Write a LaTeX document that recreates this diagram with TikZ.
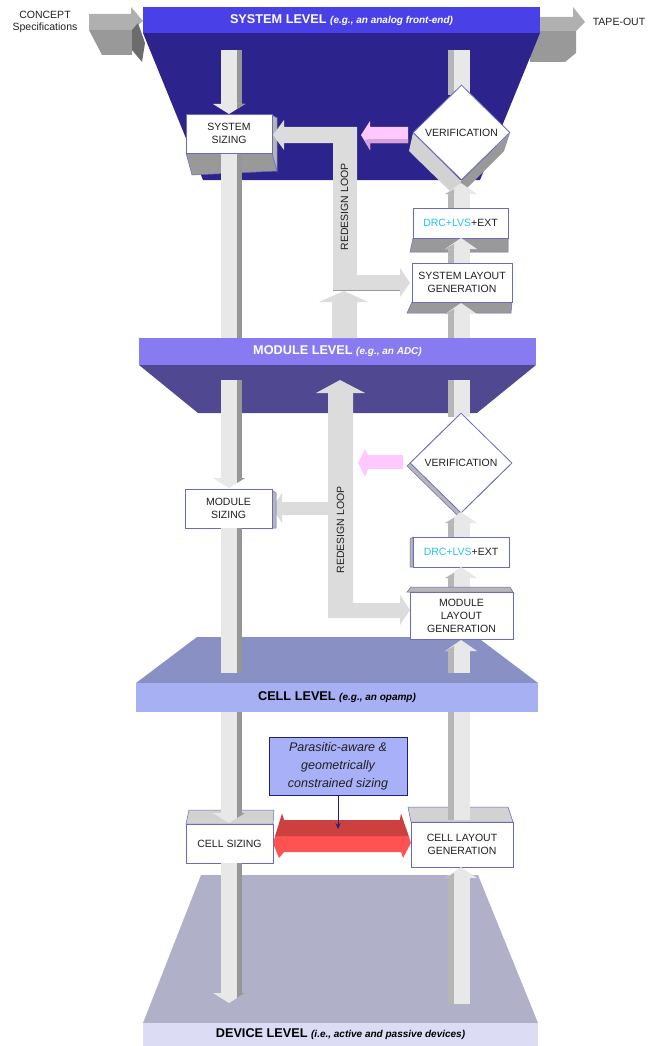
\documentclass[tikz,border=0pt]{standalone}
\usepackage{fontspec}
\setmainfont{Liberation Sans}
\usetikzlibrary{arrows.meta, positioning, shapes.geometric}

\definecolor{sysbar}{HTML}{4A40E8}
\definecolor{systrap}{HTML}{2C248C}
\definecolor{modbar}{HTML}{887AF0}
\definecolor{modtrap}{HTML}{504890}
\definecolor{celltrap}{HTML}{8890C4}
\definecolor{cellbar}{HTML}{A8B0F4}
\definecolor{devtrap}{HTML}{B0B0C8}
\definecolor{devbar}{HTML}{DCDCF4}
\definecolor{pillL}{HTML}{E8E8E8}
\definecolor{pillD}{HTML}{969696}
\definecolor{pillS}{HTML}{B6B6B6}
\definecolor{topface}{HTML}{D2D2D2}
\definecolor{loopgray}{HTML}{DCDCDC}
\definecolor{boxline}{HTML}{6A6AC0}
\definecolor{boxtext}{HTML}{202020}
\definecolor{arrtop}{HTML}{B0B0B0}
\definecolor{arrfront}{HTML}{999999}
\definecolor{arrside}{HTML}{6C6C6C}
\definecolor{pinkfill}{HTML}{FFC8FF}
\definecolor{pinkshade}{HTML}{D8A0D8}
\definecolor{redtop}{HTML}{CC4040}
\definecolor{redfront}{HTML}{FF5252}
\definecolor{parafill}{HTML}{A8B0F8}
\definecolor{paraline}{HTML}{20207A}
\definecolor{drccyan}{HTML}{22C4F0}

% pillar pieces (y from, y to)
\newcommand{\pillarL}[2]{%
  \fill[pillL] (221,#1) rectangle (237,#2);
  \fill[pillD] (237,#1) rectangle (242,#2);}
\newcommand{\pillarR}[2]{%
  \fill[pillS] (448,#1) rectangle (454,#2);
  \fill[pillL] (454,#1) rectangle (470,#2);}
% arrow heads (tip y)
\newcommand{\headDown}[1]{%
  \fill[pillL] (213,#1-10) -- (245,#1-10) -- (229,#1) -- cycle;
  \fill[pillD] (237,#1-10) -- (245,#1-10) -- (237,#1-5) -- cycle;}
\newcommand{\headUp}[1]{%
  \fill[pillL] (445,#1+11) -- (477,#1+11) -- (461,#1) -- cycle;
  \fill[pillS] (445,#1+11) -- (454,#1+11) -- (454,#1+6) -- cycle;}
\newcommand{\subtxt}[1]{{\fontsize{10}{12}\selectfont\itshape #1}}

\begin{document}
\begin{tikzpicture}[x=1pt, y=-1pt,
    box/.style={draw=boxline, fill=white, line width=0.8pt, align=center,
      inner sep=0pt, text=boxtext, font=\fontsize{10.5}{13}\selectfont},
    verif/.style={diamond, draw=boxline, fill=white, line width=0.8pt,
      inner sep=0pt, text=boxtext, font=\fontsize{10.5}{13}\selectfont},
    lvl/.style={inner sep=0pt, font=\fontsize{12.7}{15}\selectfont\bfseries},
    iotext/.style={align=center, inner sep=0pt, text=boxtext,
      font=\fontsize{10.5}{12.5}\selectfont},
    looptext/.style={rotate=90, inner sep=0pt, text=boxtext,
      font=\fontsize{10.5}{13}\selectfont},
    face/.style={draw=boxline, line width=0.5pt}]
    \useasboundingbox (0,0) rectangle (655,1046);

    % In and out arrows
    \fill[arrtop] (89,14) -- (131,14) -- (131,7) -- (143,21) -- (132,30) -- (89,30) -- cycle;
    \fill[arrfront] (89,30) -- (132,30) -- (132,55) -- (102,55) -- cycle;
    \fill[arrside] (132,30) -- (138,23) -- (145,43) -- (142,62) -- (132,50) -- cycle;
    \fill[arrfront] (530,31) -- (576,31) -- (576,53) -- (565,62) -- (530,62) -- cycle;
    \fill[arrtop] (539,17) -- (573,17) -- (573,7) -- (585,22) -- (576,31) -- (539,31) -- cycle;
    \node[iotext] (concept) at (45,22) {CONCEPT\\Specifications};
    \node[iotext] (tapeout) at (619,22) {TAPE-OUT};

    % Levels
    \fill[systrap] (143,33) -- (540,33) -- (480,180) -- (203,180) -- cycle;
    \node[lvl, fill=sysbar, text=white, minimum width=397pt, minimum height=26pt]
      (sysbar) at (341.5,20) {SYSTEM LEVEL \subtxt{(e.g., an analog front-end)}};
    \node[lvl, fill=modbar, text=white, minimum width=397pt, minimum height=27pt]
      (modbar) at (337.5,351.5) {MODULE LEVEL \subtxt{(e.g., an ADC)}};
    \fill[modtrap] (139,365) -- (536,365) -- (477,413) -- (198,413) -- cycle;
    \fill[celltrap] (197,637) -- (477,637) -- (538,683) -- (136,683) -- cycle;
    \node[lvl, fill=cellbar, text=black, minimum width=402pt, minimum height=29pt]
      (cellbar) at (337,697.5) {CELL LEVEL \subtxt{(e.g., an opamp)}};
    \fill[devtrap] (201,875) -- (478,875) -- (538,1023) -- (143,1023) -- cycle;
    \node[lvl, fill=devbar, text=black, minimum width=395pt, minimum height=23pt]
      (devbar) at (340.5,1034.5) {DEVICE LEVEL \subtxt{(i.e., active and passive devices)}};

    % System level
    \pillarL{50}{104} \headDown{114}
    \pillarR{50}{95}
    \filldraw[face, fill=arrfront] (186,153) -- (272,153) -- (277,171) -- (192,175) -- cycle;
    \filldraw[face, fill=pillS] (272,115) -- (277,118) -- (277,171) -- (272,153) -- cycle;
    \pillarL{153}{338}
    \node[box, minimum width=86pt, minimum height=39pt] (syssize) at (229,133.5) {SYSTEM\\SIZING};
    \fill[loopgray] (273,135) -- (284,120) -- (284,127) -- (357,127) -- (357,275) -- (400,275)
      -- (400,268) -- (410,283) -- (400,297) -- (400,290) -- (333,290) -- (333,143)
      -- (284,143) -- (284,150) -- cycle;
    \draw[arrfront, line width=1pt] (333,290) -- (400,290);
    \fill[loopgray] (332,338) -- (332,302) -- (319,302) -- (344,291) -- (368,302) -- (357,302) -- (357,338) -- cycle;
    \node[looptext] (sysloop) at (344.5,207) {REDESIGN LOOP};
    \fill[pinkfill] (408,127) -- (370,127) -- (370,121) -- (361,135) -- (370,150) -- (370,143) -- (408,143) -- cycle;
    \fill[pinkshade] (370,139) -- (408,139) -- (408,143) -- (370,143) -- (370,150) -- (364,140) -- cycle;
    \fill[topface] (413,133) -- (409,151) -- (457,198) -- (461,181) -- cycle;
    \fill[arrfront] (461,181) -- (457,198) -- (504,151) -- (510,133) -- cycle;
    \node[verif, minimum width=97pt, minimum height=95pt] (sysverif) at (461.5,132.5) {VERIFICATION};
    \pillarR{194}{208} \headUp{183}
    \filldraw[face, fill=arrfront] (413,238) -- (508,238) -- (508,252) -- (410,252) -- cycle;
    \node[box, minimum width=95pt, minimum height=30pt] (sysdrc) at (460.5,223)
      {{\color{drccyan}DRC+LVS}+EXT};
    \pillarR{249}{263} \headUp{238}
    \filldraw[face, fill=arrfront] (412,302) -- (512,302) -- (511,313) -- (407,313) -- cycle;
    \node[box, minimum width=100pt, minimum height=39pt] (syslayout) at (462,282.5)
      {SYSTEM LAYOUT\\GENERATION};
    \pillarR{314}{338} \headUp{303}

    % Module level
    \pillarL{380}{478} \headDown{488}
    \pillarR{380}{417}
    \fill[loopgray] (340,380) -- (365,393) -- (353,393) -- (353,603) -- (400,603) -- (400,595)
      -- (410,610) -- (400,625) -- (400,618) -- (328,618) -- (328,515) -- (282,515)
      -- (282,523) -- (272,508) -- (282,493) -- (282,502) -- (328,502) -- (328,393)
      -- (316,393) -- cycle;
    \node[looptext] (modloop) at (340.5,530) {REDESIGN LOOP};
    \fill[pinkfill] (403,455) -- (368,455) -- (365,449) -- (358,463) -- (365,477) -- (368,469) -- (403,469) -- cycle;
    \fill[face, fill=pillS] (458,466) ++(-51,0) -- ++(51,50) -- ++(51,-50) -- ++(-51,-50) -- cycle;
    \node[verif, minimum width=102pt, minimum height=100pt] (modverif) at (461,463) {VERIFICATION};
    \pillarR{523}{537} \headUp{512}
    \filldraw[face, fill=pillS] (410,539) -- (413,537) -- (413,567) -- (410,567) -- cycle;
    \node[box, minimum width=96pt, minimum height=30pt] (moddrc) at (461,552)
      {{\color{drccyan}DRC+LVS}+EXT};
    \pillarR{577}{589} \headUp{567}
    \filldraw[face, fill=pillS] (407,592) -- (411,587) -- (510,587) -- (513,592) -- cycle;
    \node[box, minimum width=103pt, minimum height=47pt] (modlayout) at (461.5,615.5)
      {MODULE\\LAYOUT\\GENERATION};
    \pillarR{651}{673} \headUp{640}
    \filldraw[face, fill=pillS] (272,490) -- (276,493) -- (276,528) -- (272,528) -- cycle;
    \node[box, minimum width=87pt, minimum height=39pt] (modsize) at (228.5,508.5) {MODULE\\SIZING};
    \pillarL{528}{673}

    % Cell level
    \filldraw[face, fill=topface] (186,824) -- (189,810) -- (274,810) -- (273,824) -- cycle;
    \filldraw[face, fill=topface] (411,822) -- (408,807) -- (508,807) -- (513,822) -- cycle;
    \pillarL{712}{813} \headDown{823}
    \pillarR{712}{820}
    \fill[redfront] (273,843) -- (282,814) -- (284,820) -- (400,820) -- (401,814) -- (411,843)
      -- (403,858) -- (401,852) -- (284,852) -- (279,858) -- cycle;
    \fill[redtop] (282,814) -- (284,820) -- (400,820) -- (401,814) -- (408.6,836) -- (275.2,836) -- cycle;
    \node[box, minimum width=87pt, minimum height=39pt] (cellsize) at (229.5,843.5) {CELL SIZING};
    \node[box, minimum width=102pt, minimum height=45pt] (celllayout) at (462,844.5)
      {CELL LAYOUT\\GENERATION};
    \node[draw=paraline, fill=parafill, line width=0.8pt, minimum width=138pt, minimum height=58pt,
      inner sep=0pt, align=center, text=boxtext, font=\fontsize{12.5}{18}\selectfont\itshape]
      (para) at (338,766) {Parasitic-aware \&\\geometrically\\constrained sizing};
    \coordinate (redmid) at (338,829);
    \draw[paraline, line width=0.8pt, -{Stealth[length=6pt,width=5pt]}] (para.south) -- (redmid);

    % Device level
    \pillarL{863}{993} \headDown{1003}
    \pillarR{878}{1004} \headUp{867}
\end{tikzpicture}
\end{document}
